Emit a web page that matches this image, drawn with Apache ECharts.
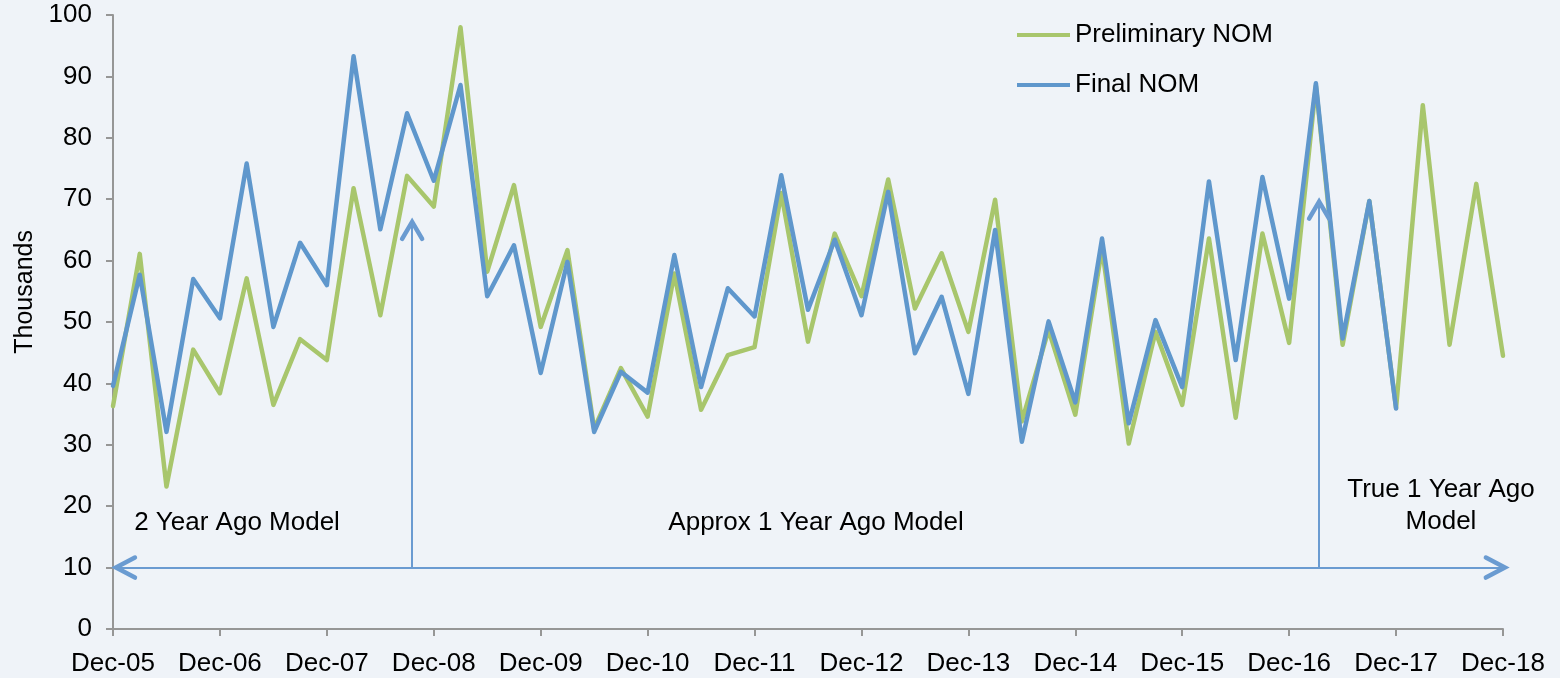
<!DOCTYPE html>
<html><head><meta charset="utf-8">
<script src="https://cdn.jsdelivr.net/npm/echarts@6/dist/echarts.min.js"></script>
<style>html,body{margin:0;padding:0;background:#eff3f8}#c{width:1560px;height:678px}</style>
</head><body><div id="c"></div>
<script>
// Quarterly points, Dec-05 (index 0) to Dec-18 (index 52)
const tickLabels = ['Dec-05','Dec-06','Dec-07','Dec-08','Dec-09','Dec-10','Dec-11','Dec-12','Dec-13','Dec-14','Dec-15','Dec-16','Dec-17','Dec-18'];
const preliminaryNOM = [36.3,61.1,23.2,45.5,38.4,57.1,36.5,47.2,43.8,71.8,51.1,73.8,68.8,98.0,58.2,72.3,49.2,61.7,32.6,42.5,34.6,57.9,35.7,44.6,45.9,71.0,46.8,64.4,54.2,73.2,52.2,61.2,48.4,69.9,33.8,48.7,34.9,62.0,30.2,48.4,36.5,63.6,34.4,64.4,46.6,88.5,46.3,69.7,36.0,85.3,46.3,72.5,44.5];
const finalNOM = [39.6,57.7,32.1,57.0,50.6,75.8,49.2,62.9,56.0,93.3,65.1,84.0,73.0,88.6,54.2,62.5,41.7,59.8,32.1,41.9,38.5,60.9,39.4,55.5,50.9,73.9,52.0,63.4,51.1,71.2,44.9,54.1,38.3,65.0,30.5,50.1,36.9,63.6,33.5,50.3,39.4,72.9,43.8,73.6,53.8,88.9,47.3,69.7,35.9];
const seriesNames = ['Preliminary NOM','Final NOM'];
const yTicks = {min: 0, max: 100, interval: 10};

const FONT = '"Liberation Sans", Arial, sans-serif';
const GREEN = '#a8c66c', BLUE = '#5f97cc', ANNO = '#6a9bd1';

const chart = echarts.init(document.getElementById('c'), null, {renderer: 'canvas'});
const option = {
  backgroundColor: '#eff3f8',
  animation: false,
  grid: {left: 113, right: 57, top: 15, bottom: 49, containLabel: false},
  legend: {
    orient: 'vertical', left: 1017, top: 22, itemGap: 24, itemWidth: 53, itemHeight: 4,
    icon: 'rect', padding: 0,
    textStyle: {fontFamily: FONT, fontSize: 26, color: '#000'},
    data: seriesNames
  },
  xAxis: {
    type: 'value', min: 0, max: (tickLabels.length - 1) * 4, interval: 4,
    axisLine: {show: true, lineStyle: {color: '#969696', width: 2}},
    axisTick: {show: true, length: 7, lineStyle: {color: '#969696', width: 2}},
    axisLabel: {margin: 22, fontFamily: FONT, fontSize: 26, color: '#000',
      formatter: v => tickLabels[Math.round(v / 4)] || ''},
    splitLine: {show: false}
  },
  yAxis: {
    type: 'value', min: yTicks.min, max: yTicks.max, interval: yTicks.interval,
    axisLine: {show: true, lineStyle: {color: '#969696', width: 2}},
    axisTick: {show: true, length: 7, lineStyle: {color: '#969696', width: 2}},
    axisLabel: {margin: 21, fontFamily: FONT, fontSize: 26, color: '#000'},
    splitLine: {show: false}
  },
  series: [
    {
      name: seriesNames[0], type: 'line', showSymbol: false, symbol: 'none',
      data: preliminaryNOM.map((v, i) => [i, v]),
      lineStyle: {color: GREEN, width: 4.5, join: 'round', cap: 'round'},
      itemStyle: {color: GREEN}, z: 2
    },
    {
      name: seriesNames[1], type: 'line', showSymbol: false, symbol: 'none', clip: false,
      data: finalNOM.map((v, i) => [i, v]),
      lineStyle: {color: BLUE, width: 4.5, join: 'round', cap: 'round'},
      itemStyle: {color: BLUE}, z: 3,
      markLine: {
        silent: true, animation: false, symbol: 'none',
        label: {show: false},
        lineStyle: {color: ANNO, width: 2, type: 'solid'},
        emphasis: {disabled: true},
        data: [
          [{coord: [0.11, 10]}, {coord: [52, 10]}],
          [{coord: [11.19, 10]}, {coord: [11.19, 66.3]}],
          [{coord: [45.12, 10]}, {coord: [45.12, 69.6]}]
        ]
      }
    }
  ]
};
chart.setOption(option);

function px(x, y) { return chart.convertToPixel({gridIndex: 0}, [x, y]); }
const notes = [
  {text: '2 Year Ago Model', at: [4.64, 17.3]},
  {text: 'Approx 1 Year Ago Model', at: [26.3, 17.3]},
  {text: 'True 1 Year Ago\nModel', at: [49.68, 20.1]}
];
const graphics = notes.map(n => {
  const p = px(n.at[0], n.at[1]);
  return {type: 'text', x: p[0], y: p[1], silent: true, z: 10,
    style: {text: n.text, fontFamily: FONT, fontSize: 26, fill: '#000', align: 'center', verticalAlign: 'middle', lineHeight: 32}};
});
// arrow heads (open chevrons) at the tips of the annotation lines
const heads = [
  {at: [0.11, 10], dir: 'left'},
  {at: [52.07, 10], dir: 'right'},
  {at: [11.19, 66.3], dir: 'up'},
  {at: [45.12, 69.6], dir: 'up'}
];
heads.forEach(h => {
  const t = px(h.at[0], h.at[1]);
  const d = 19, w = 10;
  let pts;
  if (h.dir === 'left') pts = [[t[0] + d, t[1] - w], t, [t[0] + d, t[1] + w]];
  else if (h.dir === 'right') pts = [[t[0] - d, t[1] - w], t, [t[0] - d, t[1] + w]];
  else pts = [[t[0] - w, t[1] + d - 2], t, [t[0] + w, t[1] + d - 2]];
  graphics.push({type: 'polyline', silent: true, z: 10, shape: {points: pts},
    style: {stroke: ANNO, lineWidth: 4.5, fill: null, lineCap: 'round', lineJoin: 'miter'}});
});
const g = chart.getModel().getComponent('grid', 0).coordinateSystem.getRect();
graphics.push({type: 'text', x: 25, y: g.y + g.height * 0.451, rotation: Math.PI / 2, silent: true,
  style: {text: 'Thousands', fontFamily: FONT, fontSize: 25, fill: '#000', align: 'center', verticalAlign: 'middle'}});
chart.setOption({graphic: graphics});
</script></body></html>
